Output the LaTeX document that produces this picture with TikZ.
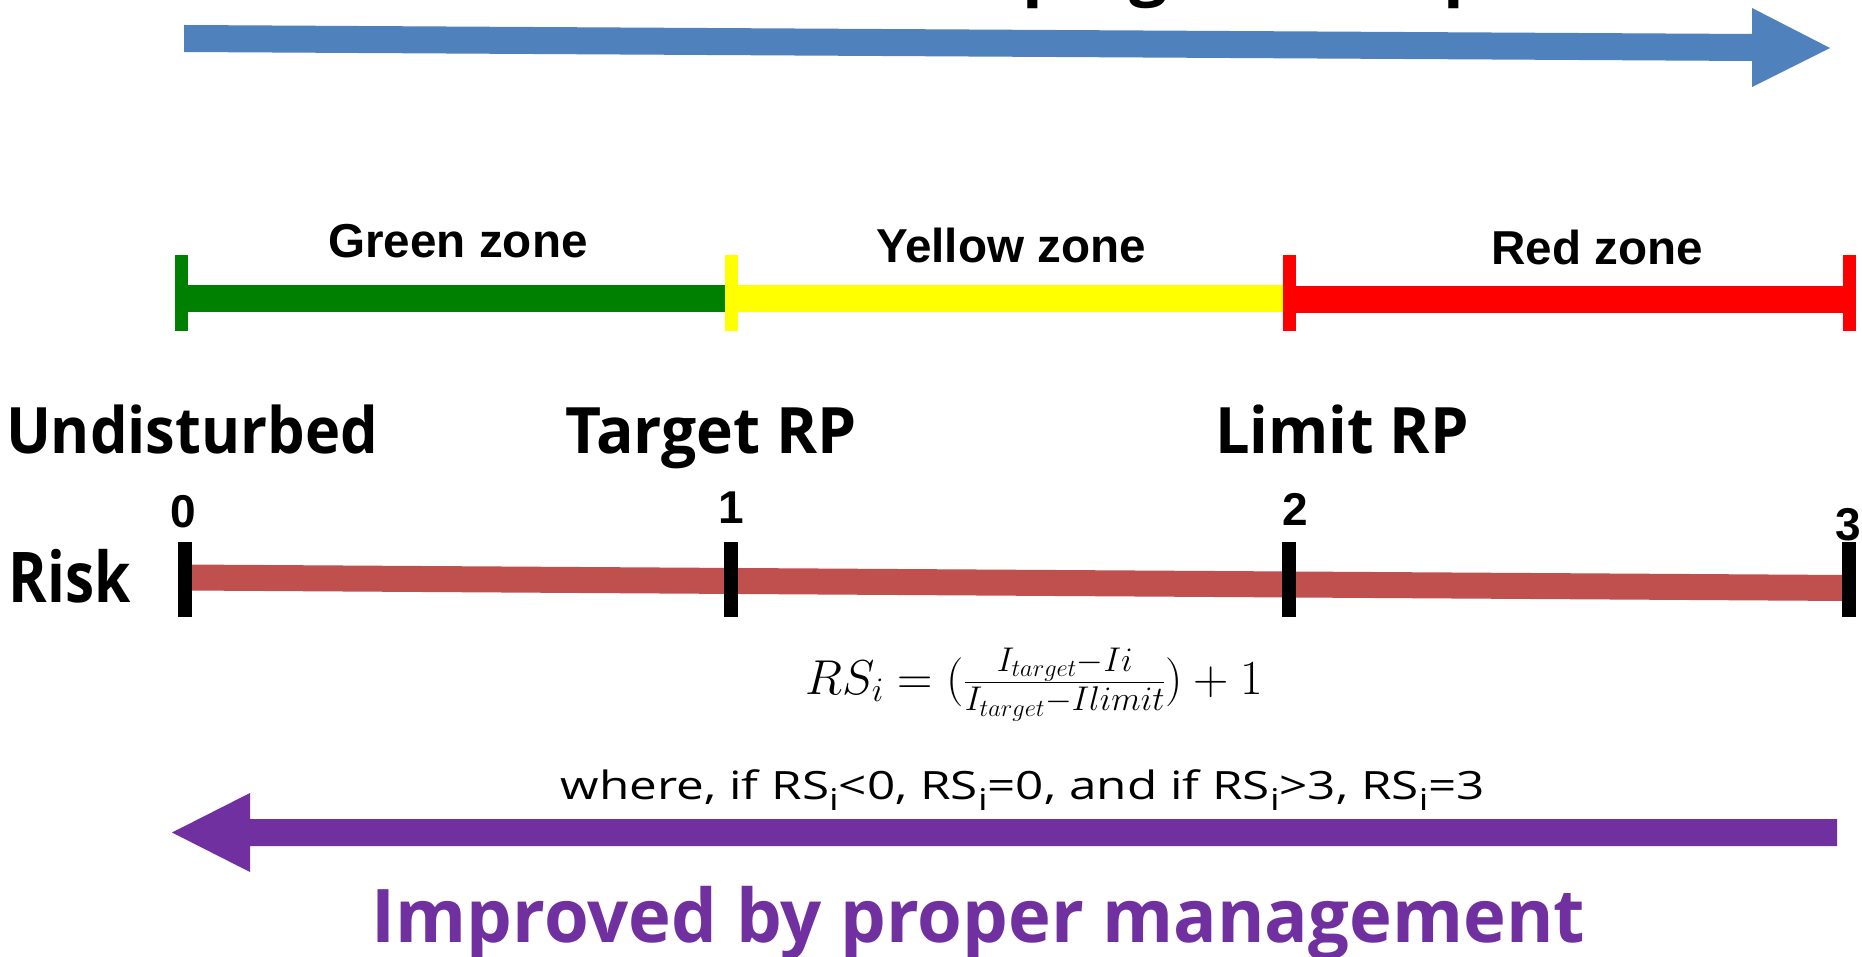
\documentclass[tikz,border=0pt]{standalone}
\usepackage{fix-cm}
\usepackage{fontspec}
\usepackage{graphicx}
\usetikzlibrary{calc}
\newfontfamily\gothic{Open Sans}
\newfontfamily\arialike{Liberation Sans}
\definecolor{arrowblue}{HTML}{4F81BD}
\definecolor{arrowpurple}{HTML}{7030A0}
\definecolor{riskred}{HTML}{C0504D}
\definecolor{zonegreen}{HTML}{008000}
\definecolor{zoneyellow}{HTML}{FFFF00}
\definecolor{zonered}{HTML}{FF0000}
\newcommand\setsz[1]{\fontsize{#1}{#1}\selectfont}
\newcommand\fitwidth[2]{\resizebox{#1pt}{\height}{#2}}
% lowered index letter used in the condition line
\newcommand\lowi{\raisebox{-11pt}{\setsz{30}i}}
\tikzset{
  lbl/.style={inner sep=0pt, outer sep=0pt, anchor=base},
  zonelbl/.style={lbl, font=\arialike\bfseries\setsz{47.6}},
  numlbl/.style={lbl, font=\arialike\bfseries\setsz{46}},
  rplbl/.style={lbl, font=\gothic\bfseries\setsz{64}},
  zonebar/.style={line width=27pt},
  zonetick/.style={line width=13pt},
  riskbar/.style={line width=26pt, riskred},
  risktick/.style={line width=14pt, black},
}
\begin{document}
\begin{tikzpicture}[x=1pt, y=-1pt]
\useasboundingbox (0,0) rectangle (1862,957);
\fill[white] (0,0) rectangle (1862,957);
\clip (0,0) rectangle (1862,957);

% heading over the upper arrow, running off the top edge
\node[lbl, anchor=base west, font=\gothic\bfseries\setsz{67.6}] (worse) at (1022,-7)
  {\llap{Worsened with develo}ping human pressure};

% upper arrow, pointing right
\coordinate (bt) at (184,38.5);
\coordinate (bh) at (1752,47.5);
\coordinate (btip) at (1830,48);
\fill[arrowblue] ($(bt)+(0,-13.5)$) -- ($(bh)+(0,-13.5)$) -- ($(bh)+(0,-39.5)$) -- (btip)
  -- ($(bh)+(0,39.5)$) -- ($(bh)+(0,13.5)$) -- ($(bt)+(0,13.5)$) -- cycle;

% zone scale
\coordinate (z0) at (181,298.5);
\coordinate (z1) at (731.5,298.5);
\coordinate (z2) at (1289.5,300);
\coordinate (z3) at (1849,300);
\draw[zonebar, zonegreen] (z0) -- (z1);
\draw[zonetick, zonegreen] (181,255) -- (181,331);
\draw[zonebar, zoneyellow] (z1) -- (z1 -| z2);
\draw[zonetick, zoneyellow] (731.5,255) -- (731.5,331);
\draw[zonebar, zonered] (z2) -- (z3);
\draw[zonetick, zonered] (1289.5,255) -- (1289.5,331);
\draw[zonetick, zonered] (1849,255) -- (1849,331);

\node[zonelbl] (gz) at (458,258) {Green zone};
\node[zonelbl] (yz) at (1011,263) {Yellow zone};
\node[zonelbl] (rz) at (1597,265) {Red zone};

% reference points
\node[rplbl] (und) at (192,453) {\fitwidth{372}{Undisturbed}};
\node[rplbl] (trp) at (711,453) {\fitwidth{292}{Target RP}};
\node[rplbl] (lrp) at (1342,453) {\fitwidth{254}{Limit RP}};

\node[numlbl] (n0) at (183,527) {0};
\node[numlbl] (n1) at (731,523) {1};
\node[numlbl] (n2) at (1295,525) {2};
\node[numlbl] (n3) at (1848,540) {3};

% risk axis
\node[lbl, font=\gothic\bfseries\setsz{70}] (risk) at (70,602) {\fitwidth{122}{Risk}};
\coordinate (r0) at (185,577.5);
\coordinate (r3) at (1848,588);
\draw[riskbar] (r0) -- (r3);
\foreach \x in {185,731,1289,1848.5}
  \draw[risktick] (\x,542) -- (\x,617);

% risk score formula
\node[lbl, font=\setsz{49}] (rs) at (1034,694)
  {$RS_i = (\frac{I_{target}-Ii}{I_{target}-Ilimit}) + 1$};
\node[lbl, font=\gothic\setsz{39}] (cond) at (1023,799)
  {\fitwidth{924}{where, if RS\lowi<0, RS\lowi=0, and if RS\lowi>3, RS\lowi=3}};

% lower arrow, pointing left
\coordinate (pt) at (1837,832.5);
\coordinate (ph) at (250,832.5);
\coordinate (ptip) at (172,832.5);
\fill[arrowpurple] ($(pt)+(0,-13.5)$) -- ($(ph)+(0,-13.5)$) -- ($(ph)+(0,-39.5)$) -- (ptip)
  -- ($(ph)+(0,39.5)$) -- ($(ph)+(0,13.5)$) -- ($(pt)+(0,13.5)$) -- cycle;

\node[lbl, font=\gothic\bfseries\setsz{74}, text=arrowpurple] (imp) at (978.5,942)
  {\fitwidth{1213}{Improved by proper management}};
\end{tikzpicture}
\end{document}
